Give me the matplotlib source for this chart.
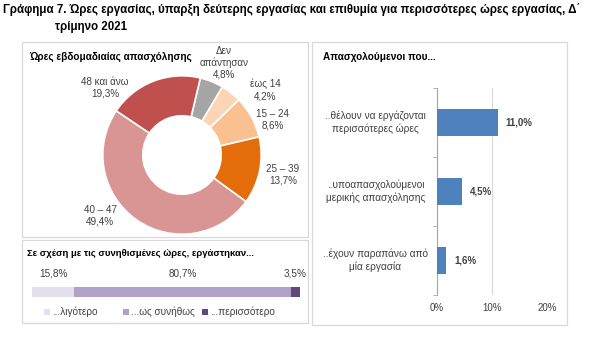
import matplotlib
matplotlib.use("Agg")
import matplotlib.pyplot as plt
from matplotlib.patches import Rectangle

plt.rcParams["font.family"] = ["Liberation Sans", "DejaVu Sans"]

W, H = 600, 344

# donut: weekly working hours
hour_labels = ["Δεν\nαπάντησαν", "έως 14", "15 – 24", "25 – 39", "40 – 47", "48 και άνω"]
hour_values = [4.8, 4.2, 8.6, 13.7, 49.4, 19.3]
hour_colors = ["#A5A5A5", "#FCD5B4", "#FAC090", "#E46C0A", "#D99594", "#C0504D"]

# stacked bar: hours worked vs usual
usual_labels = ["...λιγότερο", "...ως συνήθως", "...περισσότερο"]
usual_values = [15.8, 80.7, 3.5]
usual_colors = ["#E4DFEC", "#B1A0C7", "#60497A"]

# horizontal bars: employed who...
emp_labels = ["..θέλουν να εργάζονται\nπερισσότερες ώρες",
              "..υποαπασχολούμενοι\nμερικής απασχόλησης",
              "..έχουν παραπάνω από\nμία εργασία"]
emp_values = [11.0, 4.5, 1.6]
emp_ticks = [0, 10, 20]

TXT = "#404040"


def fx(x):
    return x / W


def fy(y):
    return 1 - y / H


def box(fig, x0, y0, x1, y1, **kw):
    style = dict(fill=False, ec="#D9D9D9", lw=0.9)
    style.update(kw)
    fig.add_artist(Rectangle((fx(x0), fy(y1)), fx(x1 - x0), (y1 - y0) / H,
                             transform=fig.transFigure, **style))


def axes_px(fig, x0, y0, x1, y1):
    return fig.add_axes([fx(x0), fy(y1), fx(x1 - x0), (y1 - y0) / H])


def pct(v):
    return f"{v:.1f}%".replace(".", ",")


fig = plt.figure(figsize=(W / 100, H / 100), dpi=100)

fig.text(fx(3), fy(9), "Γράφημα 7. Ώρες εργασίας, ύπαρξη δεύτερης εργασίας και επιθυμία "
         "για περισσότερες ώρες εργασίας, Δ΄", fontsize=8.3, weight="bold", va="center")
fig.text(fx(55), fy(27), "τρίμηνο 2021", fontsize=8.3, weight="bold", va="center")

box(fig, 22, 42, 308, 237)
box(fig, 22, 240, 308, 323)
box(fig, 312, 42, 567, 325)

# --- donut
cx, cy, r = 182, 155, 80
ax = axes_px(fig, cx - r, cy - r, cx + r, cy + r)
ax.pie(hour_values, colors=hour_colors, startangle=76.6, counterclock=False,
       radius=0.99, wedgeprops=dict(width=0.5, edgecolor="white", linewidth=1.2))
ax.set_xlim(-1, 1)
ax.set_ylim(-1, 1)
ax.set_aspect("equal")
ax.axis("off")

fig.text(fx(29), fy(57), "Ώρες εβδομαδιαίας απασχόλησης", fontsize=7.2,
         weight="bold", va="center")
label_pos = [(224, 63), (265, 90), (273, 120), (283, 175), (100, 216), (105, 88)]
for (lx, ly), lab, v in zip(label_pos, hour_labels, hour_values):
    fig.text(fx(lx), fy(ly), f"{lab}\n{pct(v)}", ha="center", va="center",
             fontsize=7.1, color=TXT, linespacing=1.2)

# --- stacked bar
fig.text(fx(27), fy(253), "Σε σχέση με τις συνηθισμένες ώρες, εργάστηκαν...",
         fontsize=6.8, weight="bold", va="center")
ax2 = axes_px(fig, 32, 287, 300, 297)
left = 0
for v, c in zip(usual_values, usual_colors):
    ax2.barh(0, v, left=left, color=c, height=1.0)
    xc = left + v / 2
    ax2.text(min(xc, 98.5), 1.9, pct(v), ha="center", va="center",
             fontsize=7.2, color=TXT)
    left += v
ax2.set_xlim(0, 100)
ax2.set_ylim(-0.5, 0.5)
ax2.axis("off")

# legend, laid out like the Excel one (equal-width entries)
for i, (lab, c) in enumerate(zip(usual_labels, usual_colors)):
    x0 = 44 + i * 79
    box(fig, x0, 309, x0 + 6, 315, fill=True, fc=c, ec="none")
    fig.text(fx(x0 + 8), fy(312), lab, fontsize=7.2, color=TXT, va="center")

# --- horizontal bars
fig.text(fx(323), fy(57), "Απασχολούμενοι που...", fontsize=7.2,
         weight="bold", va="center")
ax3 = axes_px(fig, 437, 88, 547, 295)
ypos = list(range(len(emp_values)))
ax3.barh(ypos, emp_values, height=0.39, color="#4F81BD", zorder=3)
for y, v, lab in zip(ypos, emp_values, emp_labels):
    ax3.annotate(pct(v), (v, y), xytext=(6, 0), textcoords="offset points",
                 ha="left", va="center", fontsize=7, weight="bold", color=TXT)
    ax3.text(-0.56, y, lab, transform=ax3.get_yaxis_transform(),
             ha="center", va="center", fontsize=7.3, color=TXT, linespacing=1.3)
ax3.set_xlim(0, 20)
ax3.set_ylim(2.5, -0.5)
ax3.set_xticks(emp_ticks)
ax3.set_xticklabels([f"{t}%" for t in emp_ticks], fontsize=7, color=TXT)
ax3.tick_params(axis="x", length=0, pad=6)
ax3.set_yticks([])
ax3.set_yticks([-0.5, 0.5, 1.5, 2.5], minor=True)
ax3.tick_params(axis="y", which="minor", length=3, color="#A6A6A6")
ax3.grid(axis="x", color="#D9D9D9", lw=0.8, zorder=0)
for s in ["top", "right", "bottom"]:
    ax3.spines[s].set_visible(False)
ax3.spines["left"].set_color("#A6A6A6")

fig.savefig("out.png", dpi=100)
